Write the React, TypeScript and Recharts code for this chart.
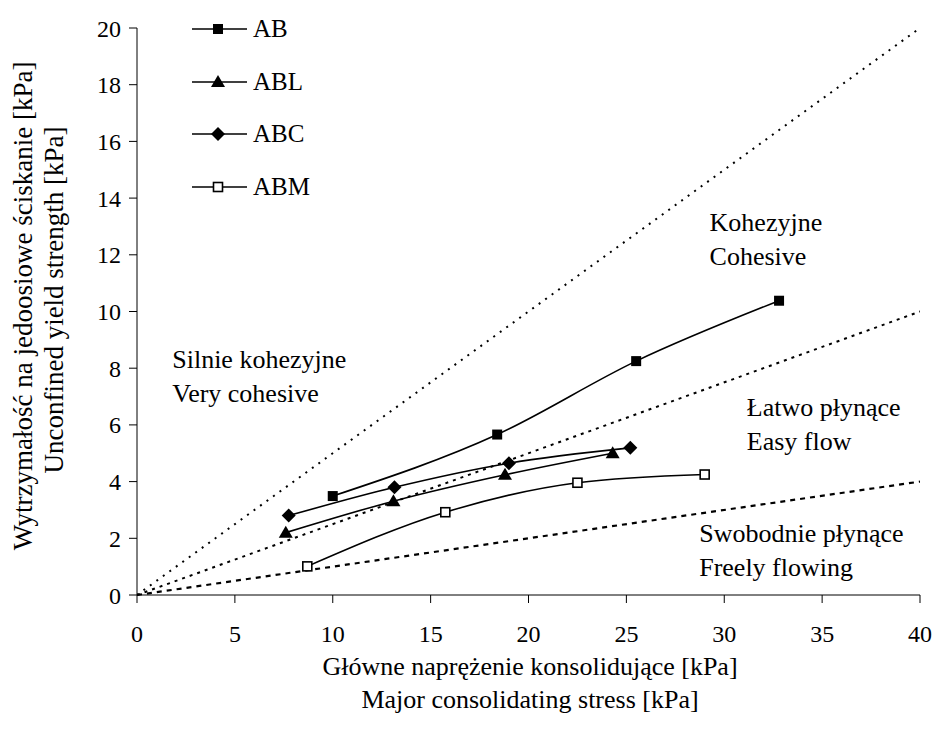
import React from "react";
import { LineChart, Line, XAxis, YAxis, ReferenceDot } from "recharts";

// measured points (major consolidating stress, unconfined yield strength) in kPa
const AB = [
  { x: 10.0, y: 3.49 },
  { x: 18.4, y: 5.66 },
  { x: 25.5, y: 8.25 },
  { x: 32.8, y: 10.38 },
];
const ABL = [
  { x: 7.6, y: 2.2 },
  { x: 13.1, y: 3.31 },
  { x: 18.8, y: 4.24 },
  { x: 24.3, y: 5.0 },
];
const ABC = [
  { x: 7.75, y: 2.8 },
  { x: 13.15, y: 3.8 },
  { x: 19.0, y: 4.65 },
  { x: 25.2, y: 5.19 },
];
const ABM = [
  { x: 8.7, y: 1.01 },
  { x: 15.75, y: 2.92 },
  { x: 22.5, y: 3.96 },
  { x: 29.0, y: 4.25 },
];

// flowability boundary lines (ffc = 2, 4, 10)
const ffc2 = [
  { x: 0, y: 0 },
  { x: 40, y: 20 },
];
const ffc4 = [
  { x: 0, y: 0 },
  { x: 40, y: 10 },
];
const ffc10 = [
  { x: 0, y: 0 },
  { x: 40, y: 4 },
];

const xTicks = [0, 5, 10, 15, 20, 25, 30, 35, 40];
const yTicks = [0, 2, 4, 6, 8, 10, 12, 14, 16, 18, 20];

const zoneLabels = [
  { x: 29.25, y: 12.83, lines: ["Kohezyjne", "Cohesive"] },
  { x: 1.8, y: 8.01, lines: ["Silnie kohezyjne", "Very cohesive"] },
  { x: 31.15, y: 6.3, lines: ["Łatwo płynące", "Easy flow"] },
  { x: 28.72, y: 1.86, lines: ["Swobodnie płynące", "Freely flowing"] },
];

const legendItems = [
  { name: "AB", kind: "square" },
  { name: "ABL", kind: "triangle" },
  { name: "ABC", kind: "diamond" },
  { name: "ABM", kind: "open" },
];

const FONT = "Liberation Serif";

function Marker({ kind, cx, cy }: { kind: string; cx: number; cy: number }) {
  if (kind === "square") {
    return <rect x={cx - 5} y={cy - 5} width={10} height={10} fill="#000" />;
  }
  if (kind === "triangle") {
    return (
      <polygon
        points={`${cx},${cy - 7} ${cx - 7},${cy + 5} ${cx + 7},${cy + 5}`}
        fill="#000"
      />
    );
  }
  if (kind === "diamond") {
    return (
      <polygon
        points={`${cx},${cy - 7} ${cx + 7},${cy} ${cx},${cy + 7} ${cx - 7},${cy}`}
        fill="#000"
      />
    );
  }
  return (
    <rect x={cx - 4.5} y={cy - 4.5} width={9} height={9} fill="#fff" stroke="#000" strokeWidth={1.6} />
  );
}

const dotOf = (kind: string) => (p: any) =>
  <Marker key={`${kind}-${p.index}`} kind={kind} cx={p.cx} cy={p.cy} />;

const ZoneText = (lines: string[]) => (p: any) => (
  <text x={p.cx} y={p.cy} style={{ fontFamily: FONT }} fontSize={26} fill="#000">
    {lines.map((l, i) => (
      <tspan key={i} x={p.cx} dy={i === 0 ? 0 : 34}>
        {l}
      </tspan>
    ))}
  </text>
);

const YTitle = () => (
  <g style={{ fontFamily: FONT }} fontSize={27} fill="#000">
    <text x={32} y={306} textAnchor="middle" transform="rotate(-90 32 306)">
      Wytrzymałość na jedoosiowe ściskanie [kPa]
    </text>
    <text x={63} y={300} textAnchor="middle" transform="rotate(-90 63 300)">
      Unconfined yield strength [kPa]
    </text>
  </g>
);

const XTitle = () => (
  <g style={{ fontFamily: FONT }} fontSize={26} fill="#000">
    <text x={530} y={675} textAnchor="middle">
      Główne naprężenie konsolidujące [kPa]
    </text>
    <text x={530} y={708} textAnchor="middle">
      Major consolidating stress [kPa]
    </text>
  </g>
);

export default function App() {
  const tick = { fill: "#000", fontSize: 24, style: { fontFamily: FONT } };
  return (
    <div style={{ position: "absolute", left: 0, top: 0, width: 934, height: 730, background: "#fff", fontFamily: FONT }}>
      <LineChart width={934} height={730} margin={{ top: 28, right: 14, bottom: 95, left: 77 }} style={{ fontFamily: FONT }}>
        <XAxis
          type="number"
          dataKey="x"
          domain={[0, 40]}
          ticks={xTicks}
          allowDataOverflow
          height={40}
          tickSize={8}
          tickMargin={22}
          stroke="#000"
          tick={tick}
          label={<XTitle />}
        />
        <YAxis
          type="number"
          dataKey="y"
          domain={[0, 20]}
          ticks={yTicks}
          width={60}
          tickSize={8}
          tickMargin={8}
          stroke="#000"
          tick={tick}
          label={<YTitle />}
        />
        <Line data={ffc2} dataKey="y" stroke="#000" strokeWidth={2} strokeDasharray="2 6" dot={false} isAnimationActive={false} />
        <Line data={ffc4} dataKey="y" stroke="#000" strokeWidth={2} strokeDasharray="3 5" dot={false} isAnimationActive={false} />
        <Line data={ffc10} dataKey="y" stroke="#000" strokeWidth={2.2} strokeDasharray="5 5" dot={false} isAnimationActive={false} />
        <Line data={AB} dataKey="y" type="monotone" stroke="#000" strokeWidth={1.6} dot={dotOf("square")} isAnimationActive={false} />
        <Line data={ABL} dataKey="y" type="monotone" stroke="#000" strokeWidth={1.6} dot={dotOf("triangle")} isAnimationActive={false} />
        <Line data={ABC} dataKey="y" type="monotone" stroke="#000" strokeWidth={1.6} dot={dotOf("diamond")} isAnimationActive={false} />
        <Line data={ABM} dataKey="y" type="monotone" stroke="#000" strokeWidth={1.6} dot={dotOf("open")} isAnimationActive={false} />
        {zoneLabels.map((z) => (
          <ReferenceDot key={z.lines[0]} x={z.x} y={z.y} r={0} ifOverflow="visible" shape={ZoneText(z.lines)} />
        ))}
      </LineChart>
      <div style={{ position: "absolute", left: 192, top: 3, fontSize: 25 }}>
        {legendItems.map((it) => (
          <div key={it.name} style={{ display: "flex", alignItems: "center", height: 52.5 }}>
            <svg width={56} height={20} style={{ display: "block" }}>
              <line x1={0} y1={10} x2={55} y2={10} stroke="#000" strokeWidth={1.6} />
              <Marker kind={it.kind} cx={26} cy={10} />
            </svg>
            <span style={{ marginLeft: 5 }}>{it.name}</span>
          </div>
        ))}
      </div>
    </div>
  );
}
